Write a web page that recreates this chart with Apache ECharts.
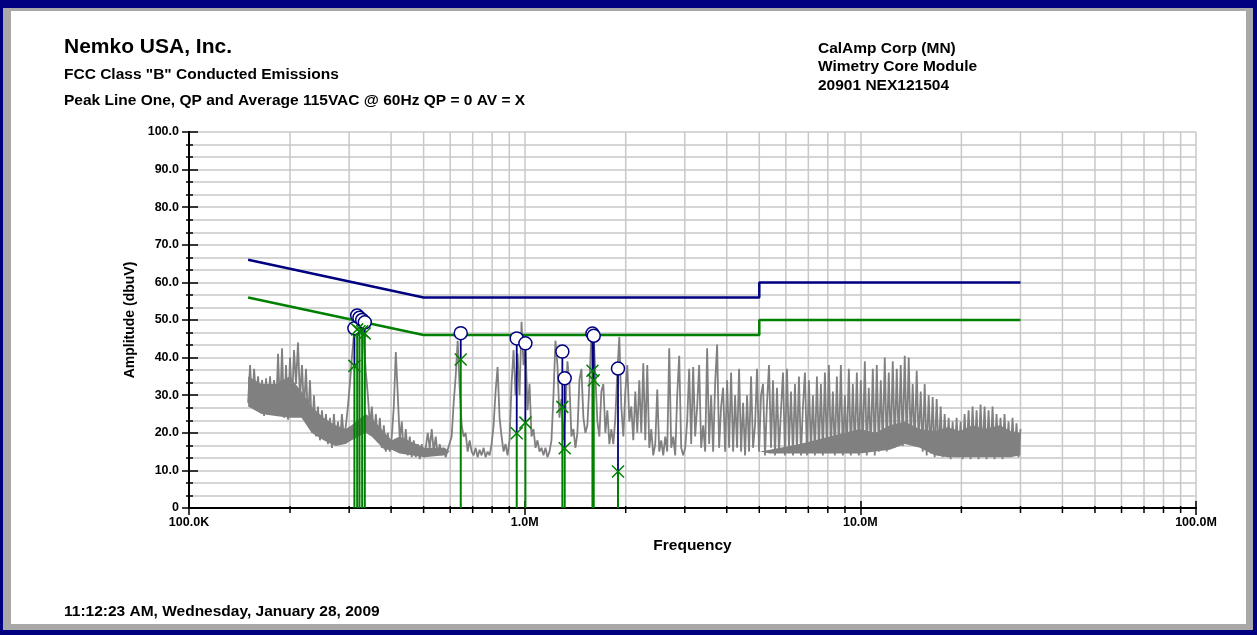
<!DOCTYPE html>
<html>
<head>
<meta charset="utf-8">
<script src="https://cdn.jsdelivr.net/npm/echarts@6.0.0/dist/echarts.min.js"></script>
<style>
html, body { margin: 0; padding: 0; background: #fff; }
#chart { width: 1257px; height: 635px; }
</style>
</head>
<body>
<div id="chart"></div>
<script>
// peak sweep, 0.15 - 30 MHz, one reading every ~2px of the original plot
var traceStartMHz = 0.15;
var traceStopMHz = 30;
var traceAmp = [
    28, 38, 27, 37, 29, 35, 25.5, 34, 24.5, 34.5,
    25, 35, 25, 34, 25, 41, 26, 42.5, 24, 38,
    23.5, 40, 28, 42, 33, 44, 29, 38, 26, 37,
    23, 34, 20, 30, 19, 27, 18, 26, 19, 25,
    17, 24, 16, 25, 17, 23, 17, 25, 18.5, 22,
    27, 33, 40, 46, 50, 51.5, 50, 48, 44, 36,
    30, 22, 27, 19, 25, 17.5, 24, 16, 22, 15,
    20, 15, 19, 27, 41.5, 30, 18, 23, 14.5, 21,
    14, 19, 13.5, 18, 13.5, 17, 13, 17, 13.5, 16,
    20, 16, 21, 15, 19, 14, 17, 14, 16, 13.5,
    15.5,
    16, 19, 28, 35, 44.5, 32, 22, 19, 20, 15,
    18, 15, 14, 16, 13.5, 15.5, 14, 16, 13.5, 15,
    14, 17, 22, 31, 37.5, 24, 19, 15, 17, 14,
    18, 33, 42, 30, 41, 30, 49.5, 38, 43, 26,
    33, 19, 21, 16, 18, 15, 16, 14, 16, 13.5,
    15, 18, 30, 44.5, 38, 24, 29, 18, 26, 39,
    33, 19, 21, 16, 20, 34, 37, 24, 20, 22,
    33, 46, 48, 35, 23, 19, 31, 33, 20, 26,
    17, 21, 17, 24, 36, 45.5, 27, 19, 31, 38,
    23, 27, 18, 31, 20,
    34, 20, 38.5, 18, 38, 16, 21, 14, 17, 31.5,
    15, 18, 14, 19, 15, 42.5, 16, 19, 14, 30,
    40.5, 16, 14, 16, 23, 37, 17, 37.5, 19, 27,
    38, 16, 22, 15, 42.5, 17, 30, 15, 33, 43.5,
    16, 27, 32, 15, 34, 16, 36, 15, 30, 16,
    37, 15, 28, 14, 30, 15, 35, 16, 22, 37,
    15, 30, 33, 14, 28, 38, 16, 34, 14, 32,
    15, 26, 36, 14, 37, 16, 31, 14, 33, 15,
    35, 14, 27, 36, 14, 34, 15, 30, 14, 35,
    15, 33, 14, 36, 15,
    38, 15, 31, 14, 35, 15, 38, 14, 30, 15,
    37, 14, 33, 15, 36, 14, 34, 15, 39, 14,
    32, 15, 37, 14, 38, 15, 34, 16, 40, 15,
    36, 16, 39, 16, 37, 17, 38, 16.5, 40.5, 17,
    40, 17, 33, 16.5, 36.5, 17, 31, 15, 33, 14,
    30, 14.5, 29.5, 13.5, 29, 14, 27, 13.5, 25, 14,
    24, 13, 23, 14, 24, 13.5, 23, 13, 25, 14,
    26, 13, 27, 14, 26, 13, 27.5, 14, 27, 13,
    26, 14, 27, 13, 25, 14, 24, 13, 25, 14,
    23, 13.5, 24, 14, 22.5, 13.5, 21
];

// where the sweep is so dense it prints as a solid band: lower / upper edge of that band
var coreFreq = [0.15, 0.1645, 0.1811, 0.1993, 0.2164, 0.2318, 0.2517, 0.2733, 0.2928, 0.305,
    0.3358, 0.3499, 0.3826, 0.4015, 0.4241, 0.5033, 0.5774, 0.5977, 0.6402, 0.6858,
    1.108, 2.202, 3.323, 5.016, 5.375, 6.601, 8.11, 9.97, 11.1, 12.24, 13.57,
    15.04, 16.67, 18.2, 19.8, 21.6, 23.5, 26.05, 28, 30];
var coreLow = [27, 25, 24.5, 24, 24, 20, 18, 16.5, 17, 18,
    20, 19, 15.5, 15.5, 14.5, 13.5, 14, 15, 15, 14,
    14, 15, 14.5, 15, 14.5, 14.5, 14.5, 14.5, 15, 15.5, 17,
    16, 14, 13.5, 13.5, 13.5, 13.5, 13.5, 13.5, 14];
var coreHigh = [35, 33, 33, 35, 31, 27, 24, 22, 21, 22,
    25, 24, 20, 18, 19, 16, 16, 15, 15, 14,
    14, 15, 14.5, 15, 15.5, 17, 19, 21, 20, 22, 23,
    21, 20.5, 21.5, 20.5, 22, 21, 22, 20.5, 20];

// FCC class B conducted limits
var limitFreq = [0.15, 0.5, 5, 5, 30];
var qpLimit = [66, 56, 56, 60, 60];
var avLimit = [56, 46, 46, 50, 50];

// measured QP (circles) and average (X) readings
var markerFreq = [0.311, 0.317, 0.322, 0.328, 0.334, 0.645, 0.947, 1.005, 1.295, 1.316, 1.592, 1.606, 1.897];
var qpLevel = [47.8, 51.2, 50.6, 50.0, 49.4, 46.5, 45.1, 43.8, 41.6, 34.5, 46.4, 45.8, 37.1];
var avLevel = [37.8, 47.5, 47.0, 47.0, 46.4, 39.5, 19.9, 22.7, 26.9, 15.9, 36.5, 34.0, 9.7];

var xTickLabels = ['100.0K', '1.0M', '10.0M', '100.0M'];

var FONT = '"Liberation Sans", Arial, sans-serif';
var NAVY = '#000080';
var GREEN = '#008000';
var GRAY = '#808080';
var GRIDC = '#c8c8c8';

var traceData = traceAmp.map(function(v, i) {
    var f = traceStartMHz * Math.pow(traceStopMHz / traceStartMHz, i / (traceAmp.length - 1));
    return [f, v];
});
function pairs(xs, ys) {
    return xs.map(function(x, i) { return [x, ys[i]]; });
}
// 2..9 minor lines of each decade
var minorFreqs = [];
[0.1, 1, 10].forEach(function(d) {
    for (var k = 2; k <= 9; k++) minorFreqs.push([k * d, 0]);
});

var myChart = echarts.init(document.getElementById('chart'));

var option = {
    animation: false,
    backgroundColor: '#fff',
    textStyle: { fontFamily: FONT },
    graphic: [
        { type: 'rect', z: -10, shape: { x: 0, y: 0, width: 1257, height: 635 }, style: { fill: NAVY } },
        { type: 'rect', z: -9, shape: { x: 3, y: 8, width: 1250, height: 622 }, style: { fill: '#a8a8a8' } },
        { type: 'rect', z: -8, shape: { x: 11, y: 11, width: 1235, height: 613 }, style: { fill: '#fff' } },
        { type: 'text', left: 64, top: 37, style: { text: 'Nemko USA, Inc.', font: 'bold 21px ' + FONT, fill: '#000' } },
        { type: 'text', left: 64, top: 67, style: { text: 'FCC Class "B" Conducted Emissions', font: 'bold 15.5px ' + FONT, fill: '#000' } },
        { type: 'text', left: 64, top: 93, style: { text: 'Peak Line One, QP and Average 115VAC @ 60Hz QP = 0 AV = X', font: 'bold 15.5px ' + FONT, fill: '#000' } },
        { type: 'text', left: 818, top: 39, style: { text: 'CalAmp Corp (MN)\nWimetry Core Module\n20901 NEX121504', font: 'bold 15.5px ' + FONT, lineHeight: 18.5, fill: '#000' } },
        { type: 'text', left: 64, top: 604, style: { text: '11:12:23 AM, Wednesday, January 28, 2009', font: 'bold 15.5px ' + FONT, fill: '#000' } }
    ],
    grid: { left: 189, right: 61, top: 132, bottom: 127 },
    xAxis: [{
        type: 'log', logBase: 10, min: 0.1, max: 100,
        position: 'bottom',
        name: 'Frequency', nameLocation: 'middle', nameGap: 30,
        nameTextStyle: { fontWeight: 'bold', fontSize: 15.5, color: '#000' },
        axisLine: { show: true, onZero: false, lineStyle: { color: '#000', width: 2 } },
        axisTick: { show: true, length: 7, lineStyle: { color: '#000', width: 1.5 } },
        axisLabel: {
            margin: 8, fontWeight: 'bold', fontSize: 12.5, color: '#000',
            formatter: function(v) { return xTickLabels[Math.round(Math.log10(v)) + 1]; }
        },
        splitLine: { show: true, lineStyle: { color: GRIDC, width: 1.5 } }
    }, {
        type: 'log', logBase: 10, min: 0.1, max: 100,
        position: 'bottom', offset: 0,
        axisLine: { show: true, onZero: false, lineStyle: { color: '#000', width: 2 } },
        axisTick: { show: true, inside: true, length: 7, lineStyle: { color: '#000', width: 1.5 } },
        axisLabel: { show: false },
        splitLine: { show: false }
    }],
    yAxis: [{
        type: 'value', min: 0, max: 100, interval: 10,
        position: 'left',
        name: 'Amplitude (dbuV)', nameLocation: 'middle', nameGap: 50, nameRotate: 90,
        nameTextStyle: { fontWeight: 'bold', fontSize: 14, color: '#000' },
        axisLine: { show: true, lineStyle: { color: '#000', width: 2 } },
        axisTick: { show: true, length: 7, lineStyle: { color: '#000', width: 1.5 } },
        minorTick: { show: true, splitNumber: 3, length: 3, lineStyle: { color: '#000', width: 1.5 } },
        axisLabel: {
            margin: 10, fontWeight: 'bold', fontSize: 12.5, color: '#000',
            formatter: function(v) { return v === 0 ? '0' : v.toFixed(1); }
        },
        splitLine: { show: true, lineStyle: { color: GRIDC, width: 1.5 } },
        minorSplitLine: { show: true, lineStyle: { color: GRIDC, width: 1.5 } }
    }, {
        type: 'value', min: 0, max: 100, interval: 10,
        position: 'left', offset: 0,
        axisLine: { show: true, lineStyle: { color: '#000', width: 2 } },
        axisTick: { show: true, inside: true, length: 9, lineStyle: { color: '#000', width: 1.5 } },
        minorTick: { show: true, splitNumber: 3, length: 4, lineStyle: { color: '#000', width: 1.5 } },
        axisLabel: { show: false },
        splitLine: { show: false }
    }],
    series: [{
        // log minor grid + their ticks on the frequency axis
        type: 'custom', z: 1, silent: true,
        data: minorFreqs,
        renderItem: function(params, api) {
            var top = api.coord([api.value(0), 100]);
            var bot = api.coord([api.value(0), 0]);
            return {
                type: 'group',
                children: [
                    { type: 'line', shape: { x1: top[0], y1: top[1], x2: bot[0], y2: bot[1] - 1 }, style: { stroke: GRIDC, lineWidth: 1.5 } },
                    { type: 'line', shape: { x1: bot[0], y1: bot[1] - 2, x2: bot[0], y2: bot[1] + 5 }, style: { stroke: '#000', lineWidth: 1.5 } }
                ]
            };
        }
    }, {
        // solid part of the noise band, one polygon between the two edges
        type: 'custom', z: 3, silent: true,
        data: [[coreFreq[0], coreLow[0]]],
        renderItem: function(params, api) {
            var pts = [];
            coreFreq.forEach(function(f, i) { pts.push(api.coord([f, coreLow[i]])); });
            for (var i = coreFreq.length - 1; i >= 0; i--) pts.push(api.coord([coreFreq[i], coreHigh[i]]));
            return { type: 'polygon', shape: { points: pts }, style: { fill: GRAY } };
        }
    }, {
        name: 'Peak', type: 'line', z: 3,
        data: traceData,
        showSymbol: false, symbol: 'none',
        lineStyle: { color: GRAY, width: 1.8 }
    }, {
        name: 'QP Limit', type: 'line', z: 4,
        data: pairs(limitFreq, qpLimit),
        showSymbol: false, symbol: 'none',
        lineStyle: { color: NAVY, width: 2.5 }
    }, {
        name: 'AV Limit', type: 'line', z: 4,
        data: pairs(limitFreq, avLimit),
        showSymbol: false, symbol: 'none',
        lineStyle: { color: GREEN, width: 2.5 }
    }, {
        // stems: green up to the average reading, navy on up to QP
        type: 'custom', z: 5,
        data: markerFreq.map(function(f, i) { return [f, avLevel[i], qpLevel[i]]; }),
        renderItem: function(params, api) {
            var base = api.coord([api.value(0), 0]);
            var av = api.coord([api.value(0), api.value(1)]);
            var qp = api.coord([api.value(0), api.value(2)]);
            return {
                type: 'group',
                children: [
                    { type: 'line', shape: { x1: qp[0], y1: qp[1], x2: av[0], y2: av[1] }, style: { stroke: NAVY, lineWidth: 1.8 } },
                    { type: 'line', shape: { x1: av[0], y1: av[1], x2: base[0], y2: base[1] }, style: { stroke: GREEN, lineWidth: 2 } }
                ]
            };
        }
    }, {
        name: 'QP', type: 'scatter', z: 6,
        data: pairs(markerFreq, qpLevel),
        symbol: 'circle', symbolSize: 13,
        itemStyle: { color: '#fff', borderColor: NAVY, borderWidth: 1.5, opacity: 1 }
    }, {
        name: 'AV', type: 'custom', z: 7,
        data: pairs(markerFreq, avLevel),
        renderItem: function(params, api) {
            var p = api.coord([api.value(0), api.value(1)]);
            var r = 6;
            return {
                type: 'group',
                children: [
                    { type: 'line', shape: { x1: p[0] - r, y1: p[1] - r, x2: p[0] + r, y2: p[1] + r }, style: { stroke: GREEN, lineWidth: 1.5 } },
                    { type: 'line', shape: { x1: p[0] - r, y1: p[1] + r, x2: p[0] + r, y2: p[1] - r }, style: { stroke: GREEN, lineWidth: 1.5 } }
                ]
            };
        }
    }]
};
myChart.setOption(option);
</script>
</body>
</html>
